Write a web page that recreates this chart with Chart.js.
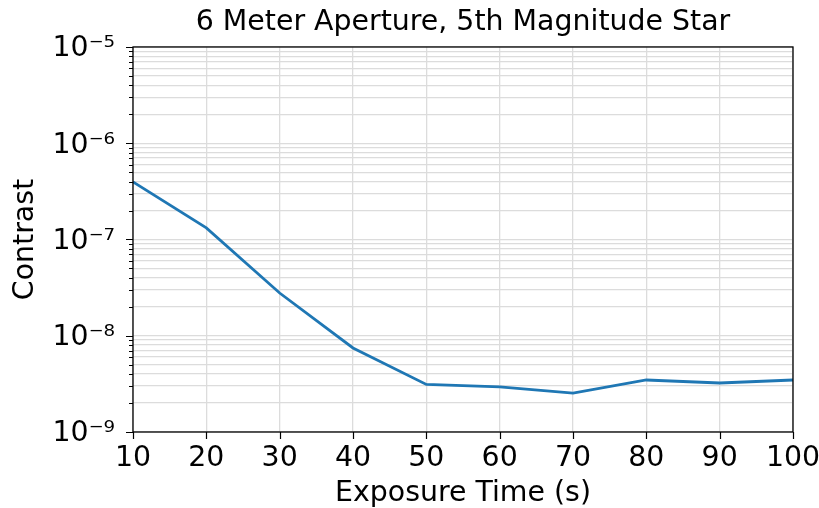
<!DOCTYPE html>
<html>
<head>
<meta charset="utf-8">
<script src="https://cdn.jsdelivr.net/npm/chart.js@4.4.1/dist/chart.umd.min.js"></script>
<style>
  body { margin: 0; background: #fff; }
  canvas { display: block; }
</style>
</head>
<body>
<canvas id="contrastChart" width="819" height="508"></canvas>
<script>
// values
var exposureTimes = [10, 20, 30, 40, 50, 60, 70, 80, 90, 100];
var contrast = [3.96e-7, 1.32e-7, 2.78e-8, 7.46e-9, 3.12e-9, 2.94e-9, 2.54e-9, 3.47e-9, 3.23e-9, 3.47e-9];
var decadeValues = [1e-9, 1e-8, 1e-7, 1e-6, 1e-5];
var decadeLabels = ['10\u207B\u2079', '10\u207B\u2078', '10\u207B\u2077', '10\u207B\u2076', '10\u207B\u2075'];
var xTickValues = [10, 20, 30, 40, 50, 60, 70, 80, 90, 100];

var FONT = 'DejaVu Sans';
var FONT_SIZE = 28.4;

// 1..9 x 10^n grid for the log axis
function logTicks() {
    var ticks = [];
    for (var d = 0; d < decadeValues.length - 1; d++) {
        for (var m = 1; m < 10; m++) {
            ticks.push({ value: m * decadeValues[d], major: m === 1 });
        }
    }
    ticks.push({ value: decadeValues[decadeValues.length - 1], major: true });
    return ticks;
}

// outward tick marks and the black frame, like matplotlib
var frameAndTicks = {
    id: 'frameAndTicks',
    afterDraw: function (chart) {
        var ctx = chart.ctx;
        var a = chart.chartArea;
        var x = chart.scales.x, y = chart.scales.y;
        ctx.save();
        ctx.strokeStyle = '#000';
        ctx.lineWidth = 1.2;
        ctx.beginPath();
        y.ticks.forEach(function (t) {
            var py = Math.round(y.getPixelForValue(t.value)) + 0.5;
            var len = t.major ? 7 : 4;
            ctx.moveTo(a.left - len, py);
            ctx.lineTo(a.left, py);
        });
        x.ticks.forEach(function (t) {
            var px = Math.round(x.getPixelForValue(t.value)) + 0.5;
            ctx.moveTo(px, a.bottom);
            ctx.lineTo(px, a.bottom + 7);
        });
        ctx.stroke();
        ctx.lineWidth = 1.3;
        ctx.strokeRect(a.left, a.top, a.right - a.left, a.bottom - a.top);
        ctx.restore();
    }
};

var ctx = document.getElementById('contrastChart').getContext('2d');
new Chart(ctx, {
    type: 'line',
    data: {
        datasets: [{
            label: 'Contrast',
            data: exposureTimes.map(function (t, i) { return { x: t, y: contrast[i] }; }),
            borderColor: '#1f77b4',
            borderWidth: 2.8,
            pointRadius: 0,
            fill: false,
            tension: 0
        }]
    },
    options: {
        responsive: false,
        animation: false,
        layout: { padding: { left: 0, right: 26, top: 0, bottom: 0 } },
        plugins: {
            legend: { display: false },
            tooltip: { enabled: false },
            title: {
                display: true,
                fullSize: false,
                text: '6 Meter Aperture, 5th Magnitude Star',
                color: '#000',
                font: { family: FONT, size: FONT_SIZE, weight: 'normal', lineHeight: 1.2 },
                padding: { top: 5.5, bottom: 7.4 }
            }
        },
        scales: {
            x: {
                type: 'linear',
                min: 10,
                max: 100,
                afterBuildTicks: function (scale) {
                    scale.ticks = xTickValues.map(function (v) { return { value: v }; });
                },
                afterFit: function (scale) {
                    scale.height = 76;
                    scale.paddingLeft = 0;
                    scale.paddingRight = 0;
                },
                border: { display: false },
                grid: { color: '#dcdcdc', lineWidth: 1.3, drawTicks: false },
                ticks: {
                    color: '#000',
                    font: { family: FONT, size: FONT_SIZE },
                    padding: 10,
                    maxRotation: 0,
                    autoSkip: false
                },
                title: {
                    display: true,
                    text: 'Exposure Time (s)',
                    color: '#000',
                    font: { family: FONT, size: FONT_SIZE, lineHeight: 1 },
                    padding: { top: 0, bottom: 0 }
                }
            },
            y: {
                type: 'logarithmic',
                min: 1e-9,
                max: 1e-5,
                afterBuildTicks: function (scale) {
                    scale.ticks = logTicks();
                },
                afterFit: function (scale) {
                    scale.width = 133;
                    scale.paddingTop = 0;
                    scale.paddingBottom = 0;
                },
                border: { display: false },
                grid: { color: '#dcdcdc', lineWidth: 1.3, drawTicks: false },
                ticks: {
                    color: '#000',
                    font: { family: FONT, size: FONT_SIZE },
                    padding: 18,
                    labelOffset: 2,
                    autoSkip: false,
                    callback: function (value) {
                        var i = decadeValues.findIndex(function (d) { return Math.abs(d - value) / d < 1e-6; });
                        return i >= 0 ? decadeLabels[i] : '';
                    }
                },
                title: {
                    display: true,
                    text: 'Contrast',
                    color: '#000',
                    font: { family: FONT, size: FONT_SIZE, lineHeight: 1 },
                    padding: { top: 11, bottom: 0 }
                }
            }
        }
    },
    plugins: [frameAndTicks]
});
</script>
</body>
</html>
